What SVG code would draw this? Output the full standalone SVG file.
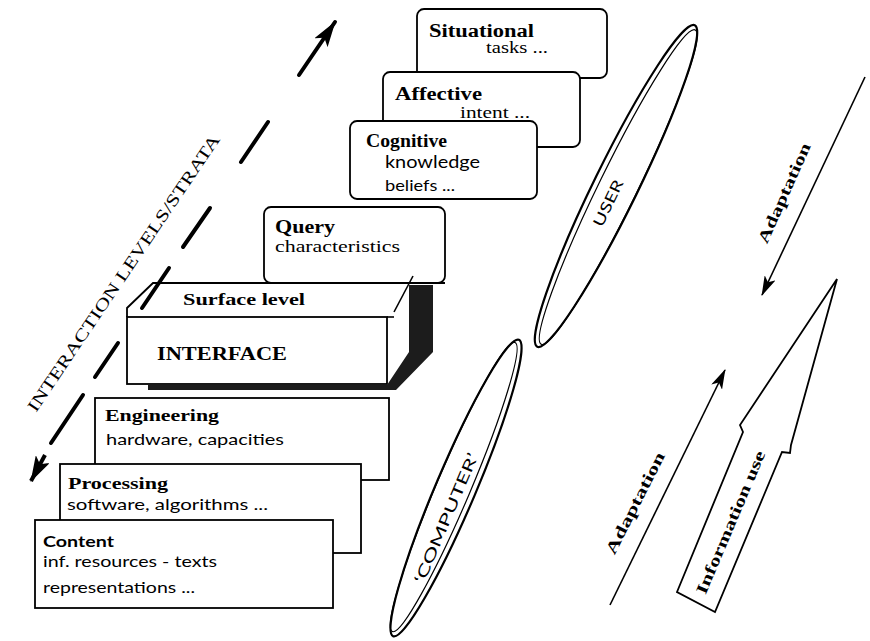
<svg xmlns="http://www.w3.org/2000/svg" width="870" height="641" viewBox="0 0 870 641">
<defs>
<style>
.box{fill:#fff;stroke:#000;stroke-width:1.8}
.hd{font-family:"Liberation Serif",serif;font-weight:bold;fill:#000}
.sub{font-family:Lato,"Liberation Sans",sans-serif;fill:#000}
.ser{font-family:"Liberation Serif",serif;fill:#000}
.dash{stroke:#000;stroke-width:4;stroke-linecap:round;fill:none}
.thin{stroke:#000;stroke-width:1.6;fill:none}
.ell{fill:none;stroke:#000}
</style>
<marker id="bigHead" markerUnits="userSpaceOnUse" viewBox="0 0 26 16" markerWidth="26" markerHeight="16" refX="25" refY="8" orient="auto"><path d="M0,0 L26,8 L0,16 L6,8 Z" fill="#000"/></marker>
<marker id="head" markerUnits="userSpaceOnUse" viewBox="0 0 20 12" markerWidth="20" markerHeight="12" refX="19" refY="6" orient="auto"><path d="M0,0 L20,6 L0,12 L5,6 Z" fill="#000"/></marker>
</defs>
<rect width="870" height="641" fill="#fff"/>

<g id="situational">
<rect class="box" x="417" y="9" width="190" height="69" rx="7"/>
<text class="hd" x="429" y="37" font-size="18" textLength="105" lengthAdjust="spacingAndGlyphs">Situational</text>
<text class="ser" x="486" y="53" font-size="16" textLength="62" lengthAdjust="spacingAndGlyphs">tasks ...</text>
</g>
<g id="affective">
<rect class="box" x="383" y="72" width="197" height="75" rx="7"/>
<text class="hd" x="395" y="100" font-size="18" textLength="87" lengthAdjust="spacingAndGlyphs">Affective</text>
<text class="ser" x="460" y="118" font-size="16" textLength="70" lengthAdjust="spacingAndGlyphs">intent ...</text>
</g>
<g id="cognitive">
<rect class="box" x="350" y="121" width="187" height="78" rx="7"/>
<text class="hd" x="366" y="147" font-size="18" textLength="81" lengthAdjust="spacingAndGlyphs">Cognitive</text>
<text class="sub" x="385" y="168" font-size="18" textLength="95" lengthAdjust="spacingAndGlyphs">knowledge</text>
<text class="sub" x="385" y="191" font-size="15" textLength="70" lengthAdjust="spacingAndGlyphs">beliefs ...</text>
</g>
<g id="query">
<rect class="box" x="264" y="207" width="181" height="76" rx="7"/>
<text class="hd" x="275" y="233" font-size="18" textLength="60" lengthAdjust="spacingAndGlyphs">Query</text>
<text class="ser" x="275" y="252" font-size="16" textLength="125" lengthAdjust="spacingAndGlyphs">characteristics</text>
</g>

<g id="interface">
<path d="M127,317 L127,308 L153,283 L445,283" class="box" fill="none"/>
<rect class="box" x="127" y="317" width="260" height="67"/>
<line class="thin" x1="387" y1="317" x2="394" y2="317"/>
<line class="thin" x1="394" y1="312" x2="413" y2="276"/>
<path d="M409,285 L433,285 L433,352 L396,390 L148,390 L148,385 L387,385 L409,352 Z" fill="#1c1c1c"/>
<text class="hd" x="183" y="305" font-size="16" textLength="122" lengthAdjust="spacingAndGlyphs">Surface level</text>
<text class="hd" x="157" y="360" font-size="19" textLength="130" lengthAdjust="spacingAndGlyphs">INTERFACE</text>
</g>

<g id="engineering">
<rect class="box" x="95" y="398" width="294" height="82"/>
<text class="hd" x="105" y="421" font-size="17" textLength="114" lengthAdjust="spacingAndGlyphs">Engineering</text>
<text class="sub" x="106" y="445" font-size="16" textLength="178" lengthAdjust="spacingAndGlyphs">hardware, capacities</text>
</g>
<g id="processing">
<rect class="box" x="60" y="464" width="301" height="89"/>
<text class="hd" x="68" y="489" font-size="17" textLength="100" lengthAdjust="spacingAndGlyphs">Processing</text>
<text class="sub" x="67" y="510" font-size="16" textLength="201" lengthAdjust="spacingAndGlyphs">software, algorithms ...</text>
</g>
<g id="content">
<rect class="box" x="35" y="520" width="298" height="88"/>
<text class="sub" x="43" y="547" font-size="15" font-weight="bold" textLength="71" lengthAdjust="spacingAndGlyphs">Content</text>
<text class="sub" x="43" y="567" font-size="15" textLength="174" lengthAdjust="spacingAndGlyphs">inf. resources - texts</text>
<text class="sub" x="43" y="593" font-size="15" textLength="152" lengthAdjust="spacingAndGlyphs">representations ...</text>
</g>

<g id="user">
<g transform="translate(616,186) rotate(-63.9)">
<ellipse class="ell" cx="0" cy="0" rx="179" ry="22" stroke-width="2.2"/>
<ellipse class="ell" cx="0" cy="2.5" rx="175" ry="19" stroke-width="1.2"/>
</g>
<text class="sub" transform="translate(608,203) rotate(-64)" x="0" y="5.5" font-size="15" text-anchor="middle" textLength="50" lengthAdjust="spacingAndGlyphs">USER</text>
</g>
<g id="computer">
<g transform="translate(456,488) rotate(-67)">
<ellipse class="ell" cx="0" cy="0" rx="161" ry="20" stroke-width="2.2"/>
<ellipse class="ell" cx="0" cy="-2.5" rx="157" ry="17" stroke-width="1.2"/>
</g>
<text class="sub" transform="translate(446,518) rotate(-67)" x="0" y="5.5" font-size="15" text-anchor="middle" textLength="140" lengthAdjust="spacingAndGlyphs">‘COMPUTER’</text>
</g>

<g id="information-use">
<path d="M837,279 L791,445 L790,453 L782,452 L715,612 L677,592 L743,432 L740,425 Z" fill="#fff" stroke="#000" stroke-width="1.8" stroke-linejoin="miter"/>
<text class="hd" transform="translate(730,522) rotate(-67)" x="0" y="6" font-size="16" text-anchor="middle" textLength="154" lengthAdjust="spacingAndGlyphs">Information use</text>
</g>

<g id="connectors">
<line class="dash" x1="83" y1="395" x2="51" y2="443"/>
<line x1="45" y1="455" x2="31" y2="481" stroke="#000" stroke-width="4" marker-end="url(#bigHead)"/>
<line class="dash" x1="95" y1="377" x2="118" y2="343"/>
<line class="dash" x1="142" y1="308" x2="169" y2="268"/>
<line class="dash" x1="183" y1="247" x2="210" y2="208"/>
<line class="dash" x1="241" y1="162" x2="268" y2="122"/>
<line x1="299" y1="75" x2="335" y2="22" stroke="#000" stroke-width="4" stroke-linecap="round" marker-end="url(#bigHead)"/>
<line class="thin" x1="865" y1="77" x2="762" y2="295" marker-end="url(#head)"/>
<line class="thin" x1="610" y1="605" x2="725" y2="370" marker-end="url(#head)"/>
</g>

<g id="labels">
<text class="ser" transform="translate(36,413) rotate(-56)" x="0" y="0" font-size="17" textLength="330" lengthAdjust="spacingAndGlyphs">INTERACTION  LEVELS/STRATA</text>
<text class="hd" transform="translate(784,193) rotate(-66)" x="0" y="5.5" font-size="16" text-anchor="middle" textLength="108" lengthAdjust="spacingAndGlyphs">Adaptation</text>
<text class="hd" transform="translate(635,503) rotate(-63)" x="0" y="5.5" font-size="16" text-anchor="middle" textLength="112" lengthAdjust="spacingAndGlyphs">Adaptation</text>
</g>
</svg>
